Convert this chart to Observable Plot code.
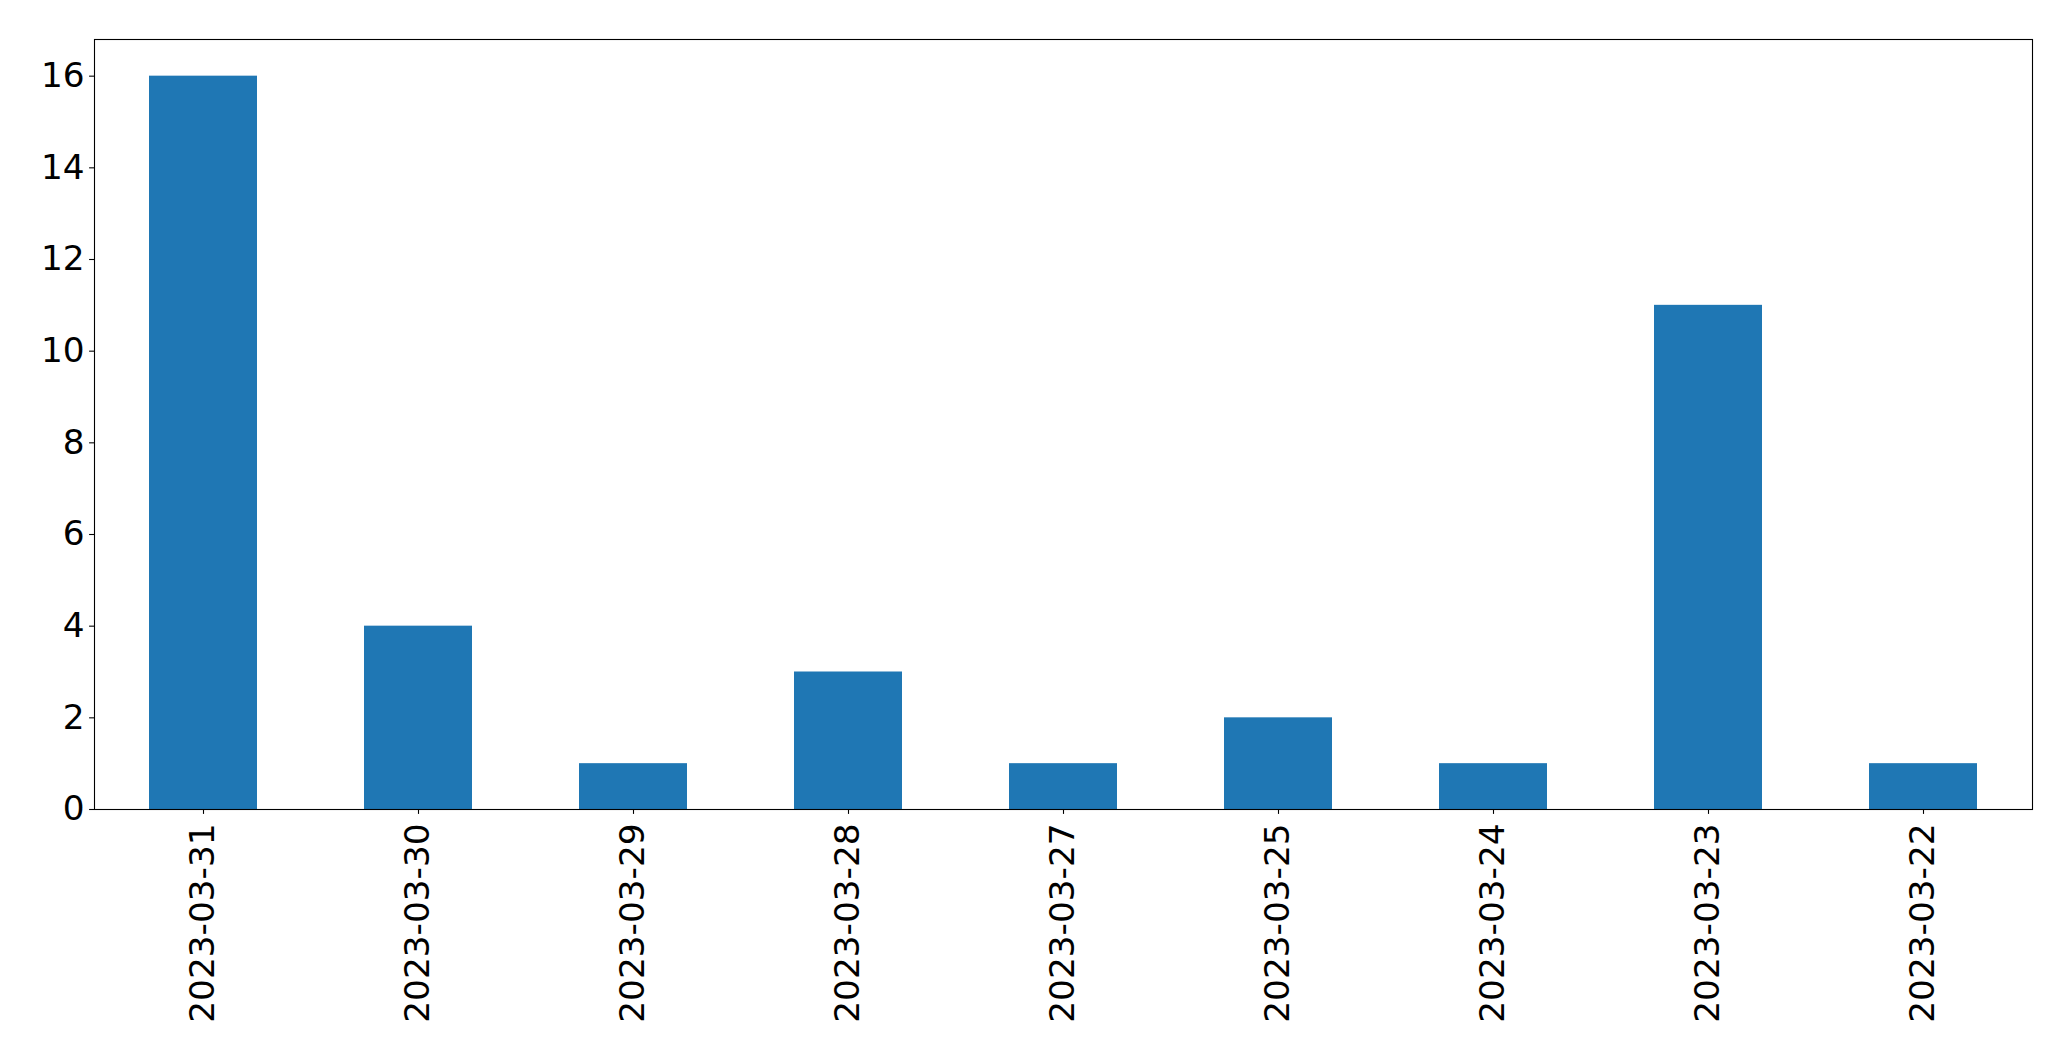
<!DOCTYPE html>
<html>
<head>
<meta charset="utf-8">
<script src="https://cdn.jsdelivr.net/npm/d3@7"></script>
<script src="https://cdn.jsdelivr.net/npm/@observablehq/plot@0.6"></script>
<style>
  html, body { margin: 0; padding: 0; background: #fff; }
  svg { display: block; }
</style>
</head>
<body>
<div id="chart"></div>
<script>
const dates = ["2023-03-31", "2023-03-30", "2023-03-29", "2023-03-28", "2023-03-27", "2023-03-25", "2023-03-24", "2023-03-23", "2023-03-22"];
const counts = [16, 4, 1, 3, 1, 2, 1, 11, 1];
const yTicks = [0, 2, 4, 6, 8, 10, 12, 14, 16];

const data = dates.map((d, i) => ({date: d, count: counts[i]}));

const chart = Plot.plot({
  width: 2071,
  height: 1061,
  marginLeft: 94,
  marginRight: 39,
  marginTop: 39,
  marginBottom: 252,
  style: {fontFamily: "DejaVu Sans", fontSize: "34.3px", color: "#000", background: "#fff"},
  x: {domain: dates, paddingInner: 0.5, paddingOuter: 0.25, label: null},
  y: {domain: [0, 16.8], label: null},
  marks: [
    Plot.barY(data, {x: "date", y: "count", fill: "#1f77b4"}),
    Plot.frame({stroke: "#000", strokeWidth: 1.1}),
    Plot.axisY({ticks: yTicks, tickSize: 4.9, tickPadding: 5, fontSize: 34.3, stroke: "#000", strokeWidth: 1.1, label: null}),
    Plot.axisX({tickSize: 4.9, tickPadding: 9, tickRotate: -90, fontSize: 34.3, stroke: "#000", strokeWidth: 1.1, label: null})
  ]
});
document.getElementById("chart").appendChild(chart);
</script>
</body>
</html>
